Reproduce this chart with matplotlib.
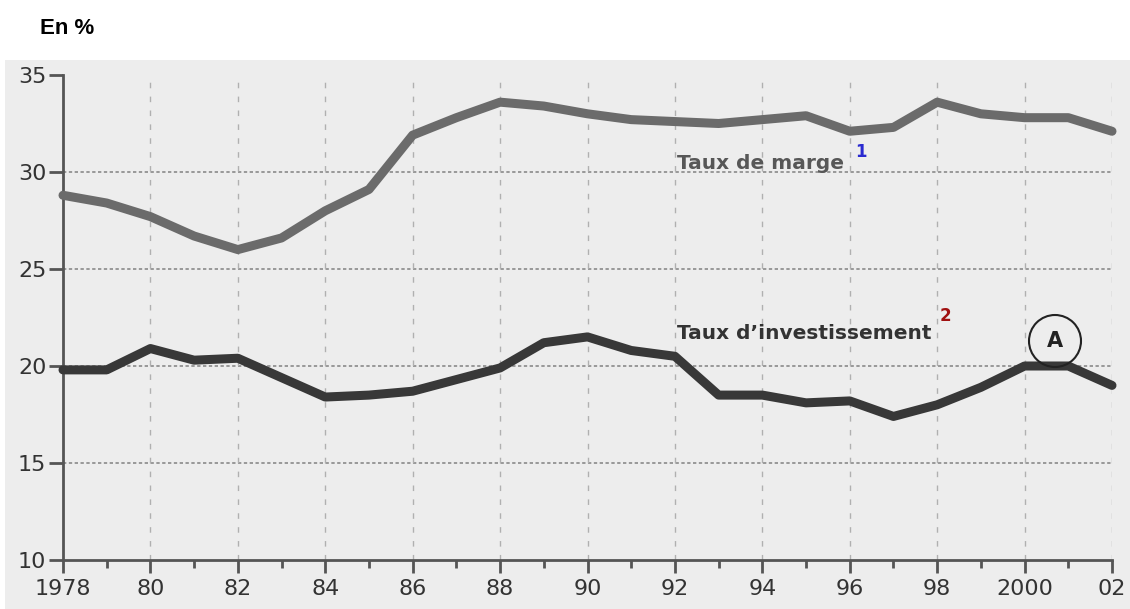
import matplotlib
matplotlib.use("Agg")
import matplotlib.pyplot as plt
from matplotlib.patches import Circle
from matplotlib.ticker import MultipleLocator, FixedLocator

years = list(range(1978, 2003))
taux_marge = [28.8, 28.4, 27.7, 26.7, 26.0, 26.6, 28.0, 29.1, 31.9, 32.8, 33.6,
              33.4, 33.0, 32.7, 32.6, 32.5, 32.7, 32.9, 32.1, 32.3, 33.6, 33.0,
              32.8, 32.8, 32.1]
taux_invest = [19.8, 19.8, 20.9, 20.3, 20.4, 19.4, 18.4, 18.5, 18.7, 19.3, 19.9,
               21.2, 21.5, 20.8, 20.5, 18.5, 18.5, 18.1, 18.2, 17.4, 18.0, 18.9,
               20.0, 20.0, 19.0]
x_ticks = [1978, 1980, 1982, 1984, 1986, 1988, 1990, 1992, 1994, 1996, 1998, 2000, 2002]
x_labels = ["1978", "80", "82", "84", "86", "88", "90", "92", "94", "96", "98", "2000", "02"]
y_ticks = [10, 15, 20, 25, 30, 35]

W, H = 1130, 609
fig = plt.figure(figsize=(W / 100, H / 100), dpi=100)
fig.patch.set_facecolor("white")

bg = fig.add_axes([5 / W, 0, 1 - 5 / W, 1 - 60 / H], zorder=-5)
bg.set_facecolor("#ededed")
bg.set_xticks([])
bg.set_yticks([])
for s in bg.spines.values():
    s.set_visible(False)

ax = fig.add_axes([63 / W, 1 - 560 / H, (1112 - 63) / W, (560 - 75) / H], zorder=1)
ax.set_facecolor("none")
ax.set_xlim(1978, 2002)
ax.set_ylim(10, 35)

# grid
ax.hlines([15, 20, 25, 30], 1978, 2002, colors="#8a8a8a", linestyles=(0, (2, 1.5)), linewidth=1.2, zorder=1)
ax.vlines(x_ticks[1:], 10, 35, colors="#b0b0b0", linestyles=(0, (4, 6)), linewidth=1.0, zorder=1)

ax.plot(years, taux_marge, color="#6b6b6b", linewidth=6.5, solid_joinstyle="round",
        solid_capstyle="round", zorder=3, clip_on=False)
ax.plot(years, taux_invest, color="#383838", linewidth=6.5, solid_joinstyle="round",
        solid_capstyle="round", zorder=3, clip_on=False)

for s in ["top", "right"]:
    ax.spines[s].set_visible(False)
for s in ["left", "bottom"]:
    ax.spines[s].set_color("#555555")
    ax.spines[s].set_linewidth(2)

ax.xaxis.set_major_locator(FixedLocator(x_ticks))
ax.set_xticklabels(x_labels)
ax.xaxis.set_minor_locator(MultipleLocator(1))
ax.set_yticks(y_ticks)
ax.tick_params(axis="y", direction="out", length=10, width=2, color="#555555",
               labelsize=16, labelcolor="#333333", pad=2)
ax.tick_params(axis="x", which="major", direction="out", length=9, width=2, color="#555555",
               labelsize=16, labelcolor="#333333", pad=5)
ax.tick_params(axis="x", which="minor", direction="out", length=6, width=2, color="#555555")

fam = ["Liberation Sans Narrow", "DejaVu Sans"]
ax.text(1992.05, 30.45, "Taux de marge", fontsize=14.5, fontweight="bold", color="#575757",
        family=fam, ha="left", va="center")
ax.text(1996.25, 31.05, "1", fontsize=12, fontweight="bold", color="#2a2ad0", ha="center", va="center")
ax.text(1992.05, 21.7, "Taux d\u2019investissement", fontsize=14.5, fontweight="bold", color="#333333",
        family=fam, ha="left", va="center")
ax.text(1998.2, 22.6, "2", fontsize=12, fontweight="bold", color="#a01010", ha="center", va="center")

circ = Circle((1055 / 100, (H - 341) / 100), 0.26, transform=fig.dpi_scale_trans,
              facecolor="none", edgecolor="#222222", linewidth=1.5, zorder=4)
fig.patches.append(circ)
fig.text(1055 / W, 1 - 341 / H, "A", fontsize=15, fontweight="bold", color="#222222",
         ha="center", va="center")

fig.text(40 / W, 1 - 28 / H, "En %", fontsize=16, fontweight="bold", color="black",
         family=["Liberation Sans", "DejaVu Sans"], ha="left", va="center")

fig.savefig("out.png", dpi=100)
